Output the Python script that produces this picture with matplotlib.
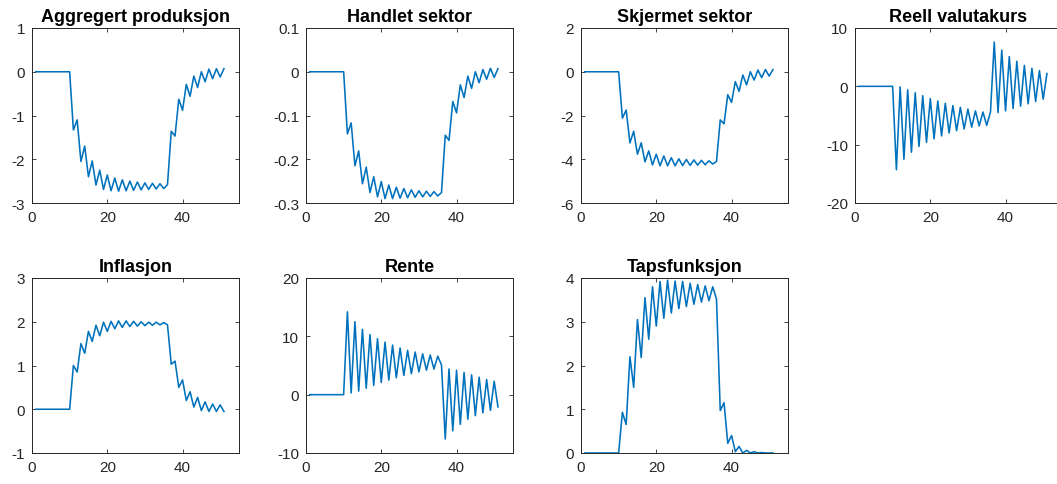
import numpy as np
import matplotlib
matplotlib.use("Agg")
import matplotlib.pyplot as plt

plt.rcParams["font.family"] = ["Liberation Sans", "DejaVu Sans"]
plt.rcParams["axes.unicode_minus"] = False

periods = list(range(1, 52))
pre_shock = [0.0] * 10

aggregert = pre_shock + [
    -1.33, -1.10, -2.05, -1.70, -2.40, -2.04, -2.59, -2.25, -2.69, -2.36,
    -2.72, -2.43, -2.73, -2.47, -2.72, -2.50, -2.71, -2.52, -2.70, -2.54,
    -2.69, -2.55, -2.68, -2.56, -2.67, -2.58,
    -1.36, -1.47, -0.63, -0.88, -0.29, -0.56, -0.10, -0.36, 0.00, -0.23,
    0.06, -0.16, 0.07, -0.12, 0.07]

handlet = pre_shock + [
    -0.142, -0.117, -0.215, -0.181, -0.256, -0.218, -0.276, -0.240, -0.286, -0.251,
    -0.290, -0.259, -0.290, -0.264, -0.289, -0.267, -0.288, -0.270, -0.287, -0.272,
    -0.286, -0.273, -0.285, -0.274, -0.284, -0.276,
    -0.145, -0.157, -0.068, -0.094, -0.030, -0.059, -0.010, -0.038, 0.000, -0.025,
    0.005, -0.017, 0.008, -0.013, 0.007]

skjermet = pre_shock + [
    -2.12, -1.75, -3.25, -2.72, -3.77, -3.25, -4.12, -3.62, -4.26, -3.77,
    -4.30, -3.85, -4.30, -3.93, -4.30, -3.98, -4.29, -4.01, -4.28, -4.03,
    -4.27, -4.05, -4.25, -4.07, -4.22, -4.10,
    -2.20, -2.38, -1.05, -1.40, -0.45, -0.90, -0.15, -0.60, 0.00, -0.38,
    0.08, -0.27, 0.10, -0.20, 0.10]

valutakurs = pre_shock + [
    -14.3, -0.1, -12.5, -0.6, -11.3, -1.1, -10.3, -1.6, -9.6, -2.1,
    -9.0, -2.5, -8.5, -2.9, -8.0, -3.3, -7.6, -3.6, -7.3, -3.9,
    -7.0, -4.2, -6.8, -4.4, -6.7, -4.4,
    7.6, -4.5, 6.2, -4.2, 5.1, -3.8, 4.3, -3.4, 3.6, -3.0,
    3.1, -2.6, 2.7, -2.2, 2.2]

inflasjon = pre_shock + [
    1.00, 0.85, 1.50, 1.28, 1.78, 1.55, 1.92, 1.68, 1.99, 1.78,
    2.01, 1.84, 2.02, 1.87, 2.02, 1.89, 2.01, 1.90, 2.00, 1.91,
    1.99, 1.92, 1.99, 1.93, 1.98, 1.93,
    1.03, 1.10, 0.50, 0.67, 0.20, 0.40, 0.05, 0.27, -0.03, 0.17,
    -0.05, 0.12, -0.05, 0.10, -0.05]

rente = pre_shock + [
    14.2, 0.3, 12.5, 0.6, 11.2, 1.1, 10.3, 1.6, 9.6, 2.1,
    9.0, 2.5, 8.5, 2.9, 8.0, 3.3, 7.6, 3.6, 7.3, 3.9,
    7.0, 4.2, 6.8, 4.4, 6.6, 5.1,
    -7.6, 4.4, -6.2, 4.2, -5.1, 3.8, -4.2, 3.4, -3.6, 3.0,
    -3.1, 2.6, -2.7, 2.3, -2.1]

tap = pre_shock + [
    0.93, 0.65, 2.20, 1.50, 3.05, 2.18, 3.55, 2.60, 3.80, 2.90,
    3.92, 3.08, 3.95, 3.20, 3.93, 3.30, 3.92, 3.35, 3.88, 3.40,
    3.85, 3.45, 3.82, 3.48, 3.80, 3.52,
    0.97, 1.15, 0.22, 0.40, 0.03, 0.15, 0.00, 0.06, 0.00, 0.03,
    0.00, 0.01, 0.00, 0.00, 0.00]

titles = ["Aggregert produksjon", "Handlet sektor", "Skjermet sektor",
          "Reell valutakurs", "Inflasjon", "Rente", "Tapsfunksjon"]
series = [aggregert, handlet, skjermet, valutakurs, inflasjon, rente, tap]
y_ticks = [
    [-3, -2, -1, 0, 1],
    [-0.3, -0.2, -0.1, 0, 0.1],
    [-6, -4, -2, 0, 2],
    [-20, -10, 0, 10],
    [-1, 0, 1, 2, 3],
    [-10, 0, 10, 20],
    [0, 1, 2, 3, 4],
]
y_labels = [
    ["-3", "-2", "-1", "0", "1"],
    ["-0.3", "-0.2", "-0.1", "0", "0.1"],
    ["-6", "-4", "-2", "0", "2"],
    ["-20", "-10", "0", "10"],
    ["-1", "0", "1", "2", "3"],
    ["-10", "0", "10", "20"],
    ["0", "1", "2", "3", "4"],
]
x_ticks = [0, 20, 40]

W, H = 1057, 485
fig = plt.figure(figsize=(W / 100, H / 100), dpi=100)

col_left = [32, 306, 581, 855]
ax_w = 207
row_top = [29, 279]
ax_h = 175

line_color = "#0072BD"
edge = "#262626"

for i, (title, y) in enumerate(zip(titles, series)):
    r, c = divmod(i, 4)
    left = col_left[c] / W
    bottom = 1 - (row_top[r] + ax_h) / H
    ax = fig.add_axes([left, bottom, ax_w / W, ax_h / H])
    ax.plot(periods, y, color=line_color, lw=1.15)
    ax.set_xlim(0, 55)
    ax.set_ylim(y_ticks[i][0], y_ticks[i][-1])
    ax.set_xticks(x_ticks)
    ax.set_xticklabels([str(t) for t in x_ticks])
    ax.set_yticks(y_ticks[i])
    ax.set_yticklabels(y_labels[i])
    ax.tick_params(direction="in", length=3, width=0.6, top=True, right=True,
                   colors=edge, labelsize=11, labelcolor=edge, pad=5)
    for s in ax.spines.values():
        s.set_color(edge)
        s.set_linewidth(0.7)
    ax.set_title(title, fontsize=13, fontweight="bold", color="black", pad=5)

fig.savefig("out.png", dpi=100)
